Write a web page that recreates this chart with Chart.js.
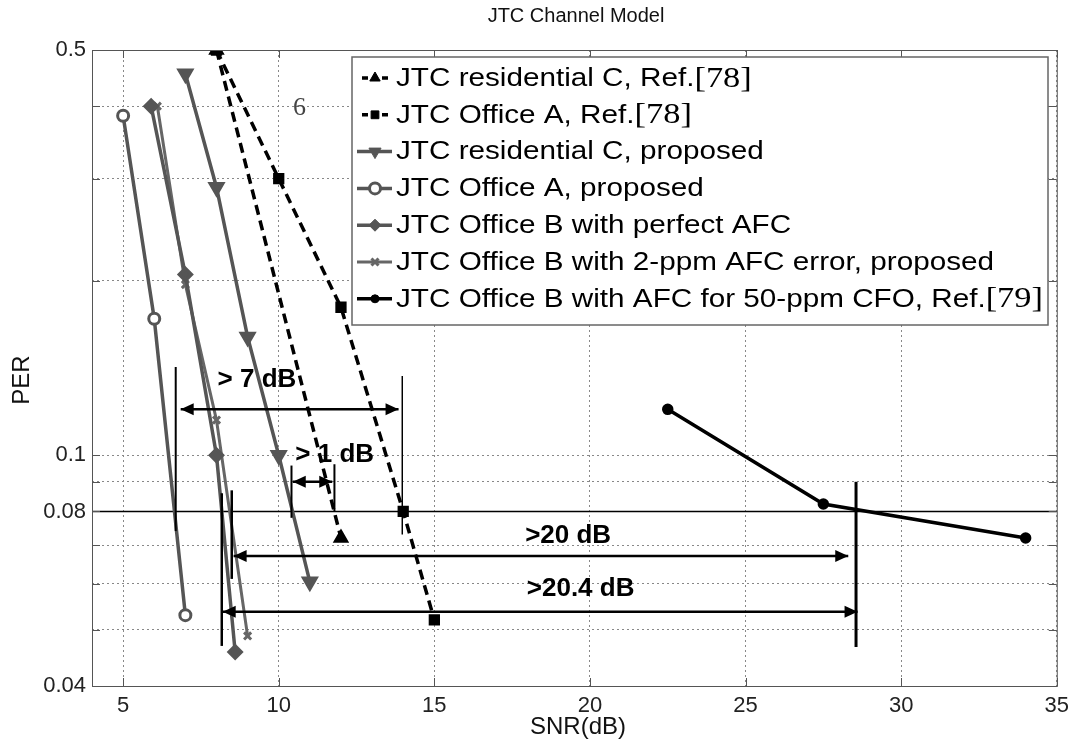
<!DOCTYPE html>
<html>
<head>
<meta charset="utf-8">
<script src="https://cdn.jsdelivr.net/npm/chart.js@4"></script>
<style>
html, body { margin: 0; padding: 0; background: #fff; }
</style>
</head>
<body>
<canvas id="perChart" width="1076" height="747"></canvas>
<script>
// valores (SNR en dB, PER)
const resCRefSnr = [8, 12];
const resCRefPer = [0.5, 0.072];
const offARefSnr = [8, 10, 12, 14, 15];
const offARefPer = [0.5, 0.3, 0.18, 0.08, 0.052];
const resCPropSnr = [7, 8, 9, 10, 11];
const resCPropPer = [0.455, 0.29, 0.16, 0.1, 0.0605];
const offAPropSnr = [5, 6, 7];
const offAPropPer = [0.385, 0.172, 0.053];
const offBPerfSnr = [5.9, 7, 8, 8.6];
const offBPerfPer = [0.4, 0.205, 0.1, 0.0458];
const offB2ppmSnr = [6.1, 7, 8, 9];
const offB2ppmPer = [0.4, 0.197, 0.115, 0.0488];
const offB50Snr = [22.5, 27.5, 34];
const offB50Per = [0.12, 0.0824, 0.072];

const xTicks = [5, 10, 15, 20, 25, 30, 35];
const yTicks = [0.04, 0.05, 0.06, 0.07, 0.08, 0.09, 0.1, 0.2, 0.3, 0.4, 0.5];
const yLabels = [0.04, 0.08, 0.1, 0.5];

const labels = [
    'JTC residential C, Ref.[78]',
    'JTC Office A, Ref.[78]',
    'JTC residential C, proposed',
    'JTC Office A, proposed',
    'JTC Office B with perfect AFC',
    'JTC Office B with 2-ppm AFC error, proposed',
    'JTC Office B with AFC for 50-ppm CFO, Ref.[79]'
];

const GRAY = '#555';
const SANS = '"Liberation Sans", Arial, sans-serif';
const SERIF = '"Liberation Serif", "Times New Roman", serif';

function pts(xs, ys) {
    return xs.map((x, i) => ({ x: x, y: ys[i] }));
}

const datasets = [
    { label: labels[0], data: pts(resCRefSnr, resCRefPer), borderColor: '#000', backgroundColor: '#000',
      borderWidth: 3.5, borderDash: [10, 6], pointStyle: 'triangle', pointRadius: 6 },
    { label: labels[1], data: pts(offARefSnr, offARefPer), borderColor: '#000', backgroundColor: '#000',
      borderWidth: 3.5, borderDash: [10, 6], pointStyle: 'rect', pointRadius: 5.5 },
    { label: labels[2], data: pts(resCPropSnr, resCPropPer), borderColor: GRAY, backgroundColor: GRAY,
      borderWidth: 3.5, pointStyle: 'triangle', pointRotation: 180, pointRadius: 7 },
    { label: labels[3], data: pts(offAPropSnr, offAPropPer), borderColor: GRAY, backgroundColor: '#fff',
      borderWidth: 3.5, pointBorderWidth: 3, pointStyle: 'circle', pointRadius: 5.5 },
    { label: labels[4], data: pts(offBPerfSnr, offBPerfPer), borderColor: GRAY, backgroundColor: GRAY,
      borderWidth: 3.5, pointStyle: 'rectRot', pointRadius: 6 },
    { label: labels[5], data: pts(offB2ppmSnr, offB2ppmPer), borderColor: '#666', backgroundColor: '#666',
      borderWidth: 3, pointBorderWidth: 3, pointStyle: 'crossRot', pointRadius: 5 },
    { label: labels[6], data: pts(offB50Snr, offB50Per), borderColor: '#000', backgroundColor: '#000',
      borderWidth: 3.5, pointStyle: 'circle', pointRadius: 4 }
];
datasets.forEach(d => { d.showLine = true; d.fill = false; d.tension = 0; });

function arrowHead(ctx, x, y, dir) {
    ctx.beginPath();
    ctx.moveTo(x, y);
    ctx.lineTo(x - dir * 13, y - 6);
    ctx.lineTo(x - dir * 13, y + 6);
    ctx.closePath();
    ctx.fill();
}

// lineas, flechas y textos de la figura
const extras = {
    id: 'extras',
    beforeDatasetsDraw(chart) {
        const { ctx, chartArea: a, scales: { x, y } } = chart;
        ctx.save();
        ctx.strokeStyle = '#000';
        ctx.lineWidth = 1.5;
        ctx.beginPath();
        ctx.moveTo(a.left, y.getPixelForValue(0.08));
        ctx.lineTo(a.right, y.getPixelForValue(0.08));
        ctx.stroke();
        ctx.restore();
    },
    afterDatasetsDraw(chart) {
        const { ctx, chartArea: a, scales: { x, y } } = chart;
        const X = v => x.getPixelForValue(v);
        const Y = v => y.getPixelForValue(v);
        ctx.save();
        ctx.strokeStyle = '#000';
        ctx.fillStyle = '#000';

        function vline(xv, y1, y2, w) {
            ctx.lineWidth = w;
            ctx.beginPath();
            ctx.moveTo(X(xv), Y(y1));
            ctx.lineTo(X(xv), Y(y2));
            ctx.stroke();
        }
        function arrow(x1, x2, yv, both) {
            const py = Y(yv);
            ctx.lineWidth = 2.5;
            ctx.beginPath();
            ctx.moveTo(X(x1), py);
            ctx.lineTo(X(x2), py);
            ctx.stroke();
            arrowHead(ctx, X(x2), py, 1);
            if (both) arrowHead(ctx, X(x1), py, -1);
        }

        // > 7 dB
        vline(6.69, 0.142, 0.074, 2);
        vline(13.97, 0.137, 0.073, 1.5);
        arrow(6.85, 13.85, 0.12, true);
        // > 1 dB
        vline(10.41, 0.096, 0.078, 2);
        vline(11.79, 0.0965, 0.08, 2);
        arrow(10.45, 11.72, 0.09, true);
        // >20 dB y >20.4 dB
        vline(8.17, 0.086, 0.0469, 2.5);
        vline(8.49, 0.087, 0.0612, 2.5);
        vline(28.55, 0.09, 0.0467, 3);
        arrow(8.55, 28.3, 0.067, true);
        arrow(8.2, 28.6, 0.0537, true);

        ctx.font = 'bold 26px ' + SANS;
        ctx.textAlign = 'center';
        ctx.textBaseline = 'middle';
        ctx.fillText('> 7 dB', X(9.3), Y(0.135));
        ctx.fillText('> 1 dB', X(11.8), Y(0.1));
        ctx.fillText('>20 dB', X(19.3), Y(0.0726));
        ctx.fillText('>20.4 dB', X(19.7), Y(0.0589));

        ctx.fillStyle = '#444';
        ctx.font = '26px ' + SERIF;
        ctx.fillText('6', X(10.67), Y(0.397));
        ctx.restore();
    },
    afterDraw(chart) {
        const { ctx, chartArea: a, scales: { x, y } } = chart;
        ctx.save();
        // caja del grafico y marcas de escala
        ctx.strokeStyle = '#555';
        ctx.lineWidth = 1;
        ctx.strokeRect(a.left + 0.5, a.top + 0.5, a.right - a.left, a.bottom - a.top);
        ctx.beginPath();
        xTicks.forEach(v => {
            const px = Math.round(x.getPixelForValue(v)) + 0.5;
            ctx.moveTo(px, a.bottom); ctx.lineTo(px, a.bottom - 8);
            ctx.moveTo(px, a.top); ctx.lineTo(px, a.top + 8);
        });
        yTicks.forEach(v => {
            const py = Math.round(y.getPixelForValue(v)) + 0.5;
            ctx.moveTo(a.left, py); ctx.lineTo(a.left + 8, py);
            ctx.moveTo(a.right, py); ctx.lineTo(a.right - 8, py);
        });
        ctx.stroke();

        // titulos
        ctx.fillStyle = '#111';
        ctx.textAlign = 'center';
        ctx.textBaseline = 'middle';
        ctx.font = '20px ' + SANS;
        ctx.fillText('JTC Channel Model', 576, 16);
        ctx.font = '24px ' + SANS;
        ctx.fillText('SNR(dB)', 578, 727);
        ctx.save();
        ctx.translate(22, 380);
        ctx.rotate(-Math.PI / 2);
        ctx.fillText('PER', 0, 0);
        ctx.restore();

        // leyenda
        const bx = 352, by = 57, bw = 696, bh = 268;
        ctx.fillStyle = '#fff';
        ctx.fillRect(bx, by, bw, bh);
        ctx.strokeStyle = '#666';
        ctx.lineWidth = 1.5;
        ctx.strokeRect(bx, by, bw, bh);

        const mainFont = '25px ' + SANS;
        const refFont = '29px ' + SERIF;
        function parts(t) {
            const m = t.match(/^(.*?)(\[\d+\])?$/);
            return [m[1], m[2] || ''];
        }
        function width(t) {
            const p = parts(t);
            ctx.font = mainFont;
            let w = ctx.measureText(p[0]).width;
            ctx.font = refFont;
            w += ctx.measureText(p[1]).width;
            return w;
        }
        const sx = 647 / width(labels[6]);

        chart.data.datasets.forEach((d, i) => {
            const cy = 78 + i * 36.8;
            ctx.save();
            ctx.strokeStyle = d.borderColor;
            ctx.fillStyle = d.borderColor;
            ctx.lineWidth = d.borderWidth;
            ctx.setLineDash(d.borderDash ? [6, 4] : []);
            ctx.beginPath();
            ctx.moveTo(d.borderDash ? 362 : 357, cy);
            ctx.lineTo(392, cy);
            ctx.stroke();
            ctx.setLineDash([]);
            ctx.fillStyle = d.backgroundColor;
            ctx.lineWidth = d.pointBorderWidth || 1;
            Chart.helpers.drawPoint(ctx, {
                pointStyle: d.pointStyle,
                rotation: d.pointRotation || 0,
                radius: d.pointRadius,
                borderWidth: d.pointBorderWidth || 1
            }, 375, cy);
            ctx.restore();

            const p = parts(d.label);
            ctx.save();
            ctx.translate(396, cy);
            ctx.scale(sx, 1);
            ctx.fillStyle = '#000';
            ctx.textAlign = 'left';
            ctx.textBaseline = 'middle';
            ctx.font = mainFont;
            ctx.fillText(p[0], 0, 1);
            const w0 = ctx.measureText(p[0]).width;
            ctx.font = refFont;
            ctx.fillText(p[1], w0, 1);
            ctx.restore();
        });
        ctx.restore();
    }
};

const config = {
    type: 'scatter',
    data: { datasets: datasets },
    options: {
        responsive: false,
        animation: false,
        layout: { padding: { left: 0, right: 16, top: 50, bottom: 0 } },
        plugins: {
            legend: { display: false },
            tooltip: { enabled: false },
            title: { display: false }
        },
        scales: {
            x: {
                type: 'linear',
                min: 4,
                max: 35,
                afterBuildTicks: s => { s.ticks = xTicks.map(v => ({ value: v })); },
                afterFit: s => { s.height = 61; },
                grid: { color: '#888', lineWidth: 1, drawTicks: false },
                border: { display: false, dash: [2, 3] },
                ticks: { color: '#222', font: { family: SANS, size: 22 }, padding: 7, maxRotation: 0 }
            },
            y: {
                type: 'logarithmic',
                min: 0.04,
                max: 0.5,
                afterBuildTicks: s => { s.ticks = yTicks.map(v => ({ value: v })); },
                afterFit: s => { s.width = 92; },
                grid: { color: '#888', lineWidth: 1, drawTicks: false },
                border: { display: false, dash: [2, 3] },
                ticks: {
                    color: '#222',
                    font: { family: SANS, size: 22 },
                    padding: 6,
                    autoSkip: false,
                    callback: v => yLabels.includes(v) ? String(v) : ''
                }
            }
        }
    },
    plugins: [extras]
};

const perChart = new Chart(document.getElementById('perChart'), config);
</script>
</body>
</html>
